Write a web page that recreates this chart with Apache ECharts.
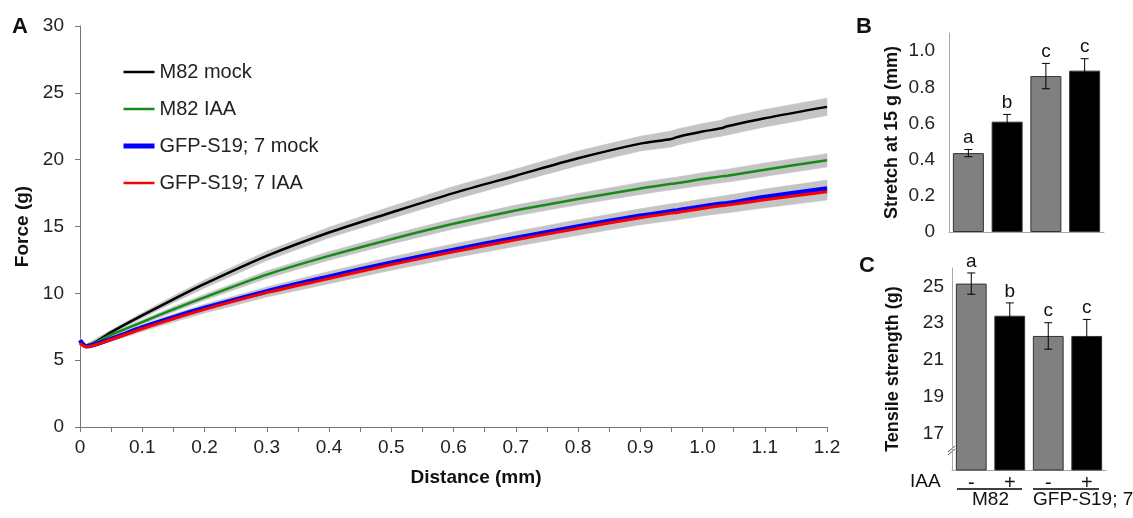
<!DOCTYPE html>
<html>
<head>
<meta charset="UTF-8">
<title></title>
<script src="https://cdn.jsdelivr.net/npm/echarts@6/dist/echarts.min.js"></script>
</head>
<body style="margin:0;background:#fff;">
<div id="main" style="width:1133px;height:518px;"></div>
<script>
// panel A: force vs distance
var distance = [0, 0.01, 0.05, 0.1, 0.15, 0.2, 0.3, 0.4, 0.5, 0.6, 0.7, 0.8, 0.9, 0.95, 0.96, 1.0, 1.03, 1.04, 1.1, 1.2];
var forceM82Mock = [6.3, 6.1, 7.1, 8.35, 9.55, 10.7, 12.8, 14.55, 16.05, 17.5, 18.8, 20.1, 21.2, 21.55, 21.7, 22.1, 22.35, 22.5, 23.1, 23.95];
var forceM82IAA  = [6.3, 6.1, 6.9, 7.85, 8.8, 9.7, 11.4, 12.8, 14.05, 15.2, 16.2, 17.05, 17.85, 18.2, 18.25, 18.55, 18.75, 18.8, 19.25, 19.95];
var forceS19Mock = [6.5, 6.05, 6.6, 7.45, 8.2, 8.9, 10.15, 11.25, 12.3, 13.25, 14.15, 15.0, 15.8, 16.15, 16.2, 16.5, 16.7, 16.75, 17.2, 17.85];
var forceS19IAA  = [6.25, 6.0, 6.55, 7.35, 8.1, 8.8, 10.05, 11.1, 12.15, 13.1, 14.0, 14.85, 15.65, 16.0, 16.05, 16.35, 16.55, 16.6, 17.0, 17.6];
// half width of the grey error band
var errM82Mock = [0.1, 0.1, 0.15, 0.2, 0.25, 0.3, 0.35, 0.4, 0.45, 0.5, 0.5, 0.55, 0.55, 0.6, 0.6, 0.6, 0.6, 0.65, 0.65, 0.65];
var errM82IAA  = [0.1, 0.1, 0.12, 0.15, 0.2, 0.22, 0.28, 0.32, 0.35, 0.38, 0.4, 0.42, 0.45, 0.45, 0.45, 0.47, 0.48, 0.48, 0.5, 0.5];
var errS19Mock = [0.1, 0.1, 0.15, 0.2, 0.25, 0.28, 0.33, 0.38, 0.42, 0.45, 0.48, 0.5, 0.52, 0.55, 0.55, 0.56, 0.57, 0.58, 0.6, 0.62];
var errS19IAA  = [0.1, 0.1, 0.15, 0.2, 0.25, 0.28, 0.33, 0.38, 0.42, 0.45, 0.48, 0.5, 0.52, 0.55, 0.55, 0.56, 0.57, 0.58, 0.6, 0.62];
var seriesNames = ['M82 mock', 'M82 IAA', 'GFP-S19; 7 mock', 'GFP-S19; 7 IAA'];

// panels B and C
var iaaLabels = ['-', '+', '-', '+'];
var stretchMean = [0.436, 0.61, 0.862, 0.892];
var stretchErr = [0.02, 0.04, 0.07, 0.066];
var stretchLetters = ['a', 'b', 'c', 'c'];
var tensileMean = [25.15, 23.4, 22.3, 22.3];
var tensileErr = [0.58, 0.7, 0.72, 0.9];
var tensileLetters = ['a', 'b', 'c', 'c'];

var FONT = '"Liberation Sans", Arial, sans-serif';

function pairs(ys) {
	return distance.map(function (x, i) { return [x, ys[i]]; });
}
// grey band drawn as one quad per segment
function bandSeries(vals, errs) {
	var segs = [];
	for (var i = 0; i < distance.length - 1; i++) {
		segs.push([distance[i], vals[i] - errs[i], vals[i] + errs[i],
			distance[i + 1], vals[i + 1] - errs[i + 1], vals[i + 1] + errs[i + 1]]);
	}
	return {
		type: 'custom', data: segs, silent: true, z: 1,
		encode: {x: [0, 3], y: [1, 2, 4, 5]},
		renderItem: function (params, api) {
			var a = api.coord([api.value(0), api.value(1)]);
			var b = api.coord([api.value(0), api.value(2)]);
			var c = api.coord([api.value(3), api.value(5)]);
			var d = api.coord([api.value(3), api.value(4)]);
			return {type: 'polygon', shape: {points: [a, b, c, d]},
				style: {fill: '#c4c4c4', stroke: '#c4c4c4', lineWidth: 0.6}};
		}
	};
}
function lineSeries(name, vals, color, w) {
	return {
		name: name, type: 'line', data: pairs(vals), symbol: 'none', smooth: 0.3,
		lineStyle: {color: color, width: w}, itemStyle: {color: color}, z: 3
	};
}
function barColor(p) { return p.dataIndex % 2 ? '#000000' : '#808080'; }

function errorBars(means, errs, letters) {
	return function (params, api) {
		var i = params.dataIndex;
		var top = api.coord([i, means[i] + errs[i]]);
		var bot = api.coord([i, means[i] - errs[i]]);
		var st = {stroke: '#000', lineWidth: 1};
		return {type: 'group', children: [
			{type: 'line', shape: {x1: top[0], y1: top[1], x2: bot[0], y2: bot[1]}, style: st},
			{type: 'line', shape: {x1: top[0] - 4, y1: top[1], x2: top[0] + 4, y2: top[1]}, style: st},
			{type: 'line', shape: {x1: bot[0] - 4, y1: bot[1], x2: bot[0] + 4, y2: bot[1]}, style: st},
			{type: 'text', x: top[0], y: top[1] - 2, style: {
				text: letters[i], fill: '#111', font: '19px ' + FONT, align: 'center', verticalAlign: 'bottom'}}
		]};
	};
}

var series = [
	bandSeries(forceM82Mock, errM82Mock),
	bandSeries(forceM82IAA, errM82IAA),
	bandSeries(forceS19Mock, errS19Mock),
	bandSeries(forceS19IAA, errS19IAA),
	lineSeries(seriesNames[0], forceM82Mock, '#000000', 2.5),
	lineSeries(seriesNames[1], forceM82IAA, '#158c15', 2.5),
	lineSeries(seriesNames[2], forceS19Mock, '#0000ff', 4.5),
	lineSeries(seriesNames[3], forceS19IAA, '#ff0000', 3)
];

series.push({
	type: 'bar', xAxisIndex: 1, yAxisIndex: 1, data: stretchMean, barCategoryGap: '20%',
	itemStyle: {color: barColor, borderColor: '#333', borderWidth: 1}
});
series.push({
	type: 'custom', xAxisIndex: 1, yAxisIndex: 1, z: 5,
	data: stretchMean.map(function (m, i) { return [i, m]; }),
	renderItem: errorBars(stretchMean, stretchErr, stretchLetters)
});
series.push({
	type: 'bar', xAxisIndex: 2, yAxisIndex: 2, data: tensileMean, barCategoryGap: '20%',
	itemStyle: {color: barColor, borderColor: '#333', borderWidth: 1}
});
series.push({
	type: 'custom', xAxisIndex: 2, yAxisIndex: 2, z: 5,
	data: tensileMean.map(function (m, i) { return [i, m]; }),
	renderItem: errorBars(tensileMean, tensileErr, tensileLetters)
});

var legendWidths = [2.5, 2.5, 5, 2.5];
var grayAxis = {lineStyle: {color: '#a8a8a8', width: 1}};
var labelStyle = {color: '#222', fontSize: 19, fontFamily: FONT};

var option = {
	animation: false,
	backgroundColor: '#fff',
	grid: [
		{left: 80, top: 26, width: 747, height: 401},
		{left: 949, top: 33, width: 155, height: 199},
		{left: 952, top: 268, width: 154, height: 202}
	],
	legend: {
		data: seriesNames.map(function (n, i) { return {name: n, lineStyle: {width: legendWidths[i]}}; }),
		orient: 'vertical', left: 121, top: 62, padding: 0,
		itemStyle: {opacity: 0},
		itemWidth: 31, itemHeight: 14, itemGap: 17,
		textStyle: {fontSize: 20, color: '#222', fontFamily: FONT}
	},
	xAxis: [{
		type: 'value', gridIndex: 0, min: 0, max: 1.2, interval: 0.05,
		axisLine: {lineStyle: {color: '#777'}},
		axisTick: {length: 5, lineStyle: {color: '#777'}},
		splitLine: {show: false},
		axisLabel: Object.assign({margin: 11, formatter: function (v) {
			if (v === 0) return '0';
			return Math.round(v * 100) % 10 === 0 ? v.toFixed(1) : '';
		}}, labelStyle),
		name: 'Distance (mm)', nameLocation: 'middle', nameGap: 41,
		nameTextStyle: {fontSize: 19, fontWeight: 'bold', color: '#111', fontFamily: FONT, padding: [0, 0, 0, 45]}
	}, {
		type: 'category', gridIndex: 1, data: iaaLabels,
		axisLine: grayAxis, axisTick: {length: 4, lineStyle: {color: '#a8a8a8'}},
		axisLabel: {show: false}
	}, {
		type: 'category', gridIndex: 2, data: iaaLabels,
		axisLine: grayAxis, axisTick: {length: 4, lineStyle: {color: '#a8a8a8'}},
		axisLabel: Object.assign({margin: 3}, labelStyle, {fontSize: 20, color: '#111'})
	}],
	yAxis: [{
		type: 'value', gridIndex: 0, min: 0, max: 30, interval: 5,
		axisLine: {show: true, lineStyle: {color: '#777'}},
		axisTick: {show: true, length: 5, lineStyle: {color: '#777'}},
		splitLine: {show: false},
		axisLabel: Object.assign({margin: 16}, labelStyle),
		name: 'Force (g)', nameLocation: 'middle', nameGap: 47,
		nameTextStyle: {fontSize: 19, fontWeight: 'bold', color: '#111', fontFamily: FONT}
	}, {
		type: 'value', gridIndex: 1, min: 0, max: 1.1, interval: 0.2,
		axisLine: Object.assign({show: true}, grayAxis),
		axisTick: {show: false}, splitLine: {show: false},
		axisLabel: Object.assign({margin: 14, formatter: function (v) {
			if (v === 0) return '0';
			return Math.abs(v * 5 - Math.round(v * 5)) < 1e-6 ? v.toFixed(1) : '';
		}}, labelStyle),
		name: 'Stretch at 15 g (mm)', nameLocation: 'middle', nameGap: 48,
		nameTextStyle: {fontSize: 18, fontWeight: 'bold', color: '#111', fontFamily: FONT}
	}, {
		type: 'value', gridIndex: 2, min: 15, max: 26, interval: 2,
		axisLine: Object.assign({show: true}, grayAxis),
		axisTick: {show: false}, splitLine: {show: false},
		axisLabel: Object.assign({margin: 8, formatter: function (v) {
			return (v > 15 && v < 26) ? String(v) : '';
		}}, labelStyle),
		name: 'Tensile strength (g)', nameLocation: 'middle', nameGap: 50,
		nameTextStyle: {fontSize: 18, fontWeight: 'bold', color: '#111', fontFamily: FONT}
	}],
	graphic: [
		{type: 'text', left: 12, top: 16, style: {text: 'A', font: 'bold 22px ' + FONT, fill: '#111'}},
		{type: 'text', left: 856, top: 16, style: {text: 'B', font: 'bold 22px ' + FONT, fill: '#111'}},
		{type: 'text', left: 859, top: 255, style: {text: 'C', font: 'bold 22px ' + FONT, fill: '#111'}},
		{type: 'text', left: 910, top: 472, style: {text: 'IAA', font: '19px ' + FONT, fill: '#111'}},
		{type: 'line', shape: {x1: 957, y1: 489, x2: 1022, y2: 489}, style: {stroke: '#000', lineWidth: 1.5}},
		{type: 'line', shape: {x1: 1033, y1: 489, x2: 1099, y2: 489}, style: {stroke: '#000', lineWidth: 1.5}},
		{type: 'text', left: 972, top: 490, style: {text: 'M82', font: '19px ' + FONT, fill: '#111'}},
		{type: 'text', left: 1033, top: 490, style: {text: 'GFP-S19; 7', font: '19px ' + FONT, fill: '#111'}},
		{type: 'line', shape: {x1: 948, y1: 452, x2: 955, y2: 446}, style: {stroke: '#555', lineWidth: 1}},
		{type: 'line', shape: {x1: 948, y1: 455, x2: 955, y2: 449}, style: {stroke: '#555', lineWidth: 1}}
	],
	series: series
};

var myChart = echarts.init(document.getElementById('main'));
myChart.setOption(option);
</script>
</body>
</html>
